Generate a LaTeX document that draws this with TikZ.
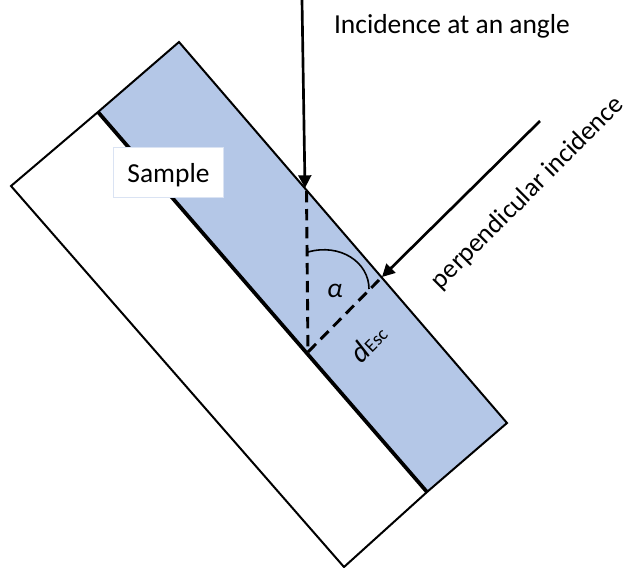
\documentclass[tikz,border=0pt]{standalone}
\usepackage{fontspec}
\setmainfont{Carlito}
\usetikzlibrary{arrows.meta}
\definecolor{sampleblue}{RGB}{180,199,231}
\definecolor{boxedge}{RGB}{218,227,243}
\tikzset{
  outline/.style={draw=black,line width=1.5pt,line join=miter},
  interface/.style={draw=black,line width=2.8pt},
  ray/.style={draw=black,line width=2pt,-{Triangle[length=9.5pt,width=9.5pt]}},
  guide/.style={draw=black,line width=2.2pt,dash pattern=on 8.5pt off 5pt},
  anglemark/.style={draw=black,line width=1.2pt},
  label/.style={inner sep=0pt,font=\fontsize{20.6}{24}\selectfont,text=black}
}
\begin{document}
\begin{tikzpicture}[x=0.75pt,y=-0.75pt]
\useasboundingbox (0,0) rectangle (636,568);
\coordinate (top) at (179,42);
\coordinate (midL) at (98,112);
\coordinate (left) at (11,186);
\coordinate (bot) at (344,567);
\coordinate (midR) at (427,492);
\coordinate (right) at (507,423);
\coordinate (r1a) at (302,0);
\coordinate (r1b) at (305,188);
\coordinate (g1) at (306.5,191);
\coordinate (r2a) at (540,121);
\coordinate (r2b) at (382,277);
\coordinate (g2) at (379,280);
\coordinate (base) at (308,352);
\coordinate (arcA) at (308,252);
\coordinate (arcB) at (369,289);
\fill[sampleblue] (midL) -- (top) -- (right) -- (midR) -- cycle;
\draw[outline] (midL) -- (top) -- (right) -- (midR) -- (bot) -- (left) -- cycle;
\draw[interface] (midL) -- (midR);
\node[label,draw=boxedge,line width=0.7pt,fill=white,minimum width=83pt,minimum height=37.5pt,text depth=0pt] (sample) at (168.5,172) {\raisebox{-1pt}{Sample}};
\draw[ray] (r1a) -- (r1b);
\draw[ray] (r2a) -- (r2b);
\draw[guide] (g1) -- (base);
\draw[guide] (base) -- (g2);
\draw[anglemark] (arcA) .. controls (340,243) and (369,262) .. (arcB);
\node[label,font=\fontsize{20.6}{24}\itshape\selectfont] (alpha) at (335,291) {α};
\node[label,rotate=45] (desc) at (368,343) {{\fontsize{22}{24}\selectfont\textit{d}}\fontsize{14}{16}\selectfont Esc};
\node[label] (inc) at (452,26) {Incidence at an angle};
\node[label,rotate=45,font=\fontsize{20}{24}\selectfont] (perp) at (528,193) {perpendicular incidence};
\end{tikzpicture}
\end{document}
